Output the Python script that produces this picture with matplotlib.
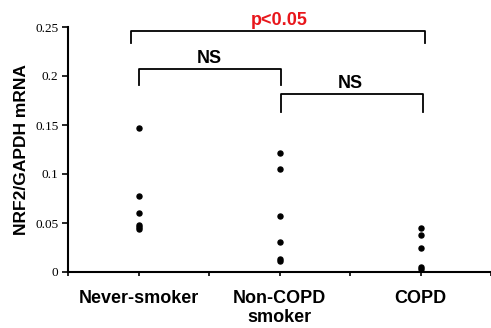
import matplotlib
matplotlib.use('Agg')
import matplotlib.pyplot as plt
import numpy as np

# Grupos e valores
grupos = ["Never-smoker", "Non-COPD\nsmoker", "COPD"]
never_smoker = [0.147, 0.078, 0.060, 0.048, 0.046, 0.044]
non_copd = [0.121, 0.105, 0.057, 0.031, 0.013, 0.011]
copd = [0.045, 0.038, 0.025, 0.005, 0.003]
y_ticks = [0, 0.05, 0.1, 0.15, 0.2, 0.25]
y_tick_labels = ["0", "0.05", "0.1", "0.15", "0.2", "0.25"]

# Comparações (grupo a, grupo b, texto, cor)
comparacoes = [(1, 3, "p<0.05", "#e8161b"),
               (1, 2, "NS", "black"),
               (2, 3, "NS", "black")]

fig = plt.figure(figsize=(4.91, 3.28), dpi=100)
ax = fig.add_axes([68/491, 56/328, 423/491, 245/328])

for i, vals in enumerate([never_smoker, non_copd, copd]):
    ax.scatter(np.full(len(vals), i + 1), vals, s=13, color='black', zorder=3, clip_on=False)

ax.set_xlim(0.5, 0.5 + 423/142.5)
ax.set_ylim(0, 0.25)
ax.set_yticks(y_ticks)
ax.set_yticklabels(y_tick_labels, family='Liberation Serif', fontsize=9.5)
ax.set_xticks([1, 2, 3])
ax.set_xticklabels(grupos, fontsize=13, fontweight='bold', family='Liberation Sans', linespacing=1.15)
ax.set_xticks([0.5, 1.5, 2.5, 3.5], minor=True)
ax.tick_params(axis='x', which='both', length=3, width=1.2, pad=10)
ax.tick_params(axis='y', length=4, width=1.2, pad=3)
for s in ['top', 'right']:
    ax.spines[s].set_visible(False)
for s in ['left', 'bottom']:
    ax.spines[s].set_linewidth(1.5)
ax.set_ylabel("NRF2/GAPDH mRNA", fontsize=12.5, fontweight='bold', family='Liberation Sans', labelpad=4)

# Parênteses de significância
alturas = [0.2462, 0.2071, 0.1813]
pernas = [0.013, 0.016, 0.018]
ajustes = [(-0.053, 0.033), (0.0, 0.009), (0.01, 0.019)]
for (a, b, txt, cor), h, p, (da, db) in zip(comparacoes, alturas, pernas, ajustes):
    xa, xb = a + da, b + db
    ax.plot([xa, xa, xb, xb], [h - p, h, h, h - p], color='black', lw=1.3, clip_on=False)
    ax.text((a + b) / 2, h + 0.002, txt, ha='center', va='bottom',
            color=cor, fontsize=13, fontweight='bold', family='Liberation Sans', clip_on=False)

fig.savefig('out.png', dpi=100)
